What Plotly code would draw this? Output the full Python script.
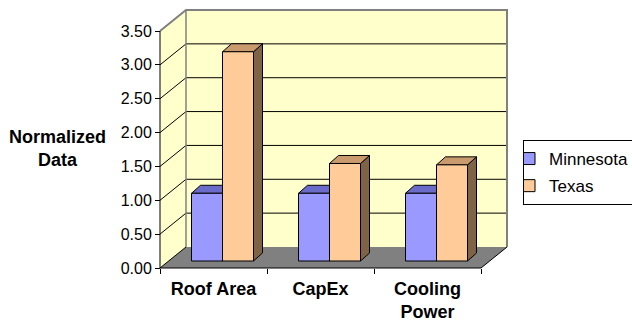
import plotly.graph_objects as go

# ---- data ----
categories = ["Roof Area", "CapEx", "Cooling<br>Power"]
series_names = ["Minnesota", "Texas"]
minnesota = [1.00, 1.00, 1.00]
texas = [3.09, 1.44, 1.42]
y_ticks = [0.0, 0.5, 1.0, 1.5, 2.0, 2.5, 3.0, 3.5]

# ---- styling / geometry (pixels) ----
W_FIG, H_FIG = 632, 321
X0PX, Y0PX = 160, 268          # front origin in pixels
PXX = 107.0                    # px per category
PXY = (268 - 31) / 3.5         # px per value unit
PAD = 4
YMAX = 3.5
DX = 26 / PXX                  # back-wall depth offset
DY = 21 / PXY
SHX = 9 / PXX                  # bar front face depth offset
BASE = 7 / PXY
BDX = 9 / PXX                  # bar depth
BDY = 8 / PXY
BW = 31 / PXX                  # bar width

front_col = {"Minnesota": "#9999FF", "Texas": "#FFCC99"}
top_col = {"Minnesota": "#6B6BC9", "Texas": "#C99A6E"}
side_col = {"Minnesota": "#4D4D99", "Texas": "#7F6346"}
offsets = {"Minnesota": -BW, "Texas": 0.0}
WALL = "#FFFFCC"
GRAY = "#808080"
FONT = "Arial, Liberation Sans, sans-serif"

n = len(categories)
xlo = -0.5 - PAD / PXX
xhi = n - 0.5 + DX + PAD / PXX
ylo = -PAD / PXY
yhi = YMAX + DY + PAD / PXY

plot_w = (xhi - xlo) * PXX
plot_h = (yhi - ylo) * PXY
m_l = X0PX - PAD
m_b = H_FIG - (Y0PX + PAD)
m_t = Y0PX + PAD - plot_h
m_r = W_FIG - m_l - plot_w

fig = go.Figure()
values = {"Minnesota": minnesota, "Texas": texas}
for name in series_names:
    fig.add_trace(go.Bar(
        name=name,
        x=[i + SHX for i in range(n)],
        y=values[name],
        base=BASE,
        offset=offsets[name],
        width=BW,
        marker=dict(color=front_col[name], line=dict(color="black", width=1)),
        legendgroup=name,
    ))

shapes = []
def poly(pts, fill=None, line_color=None, lw=1):
    path = "M " + " L ".join(f"{x},{y}" for x, y in pts) + (" Z" if fill else "")
    d = dict(type="path", path=path, xref="x", yref="y", layer="below",
             line=dict(color=line_color or "rgba(0,0,0,0)", width=lw if line_color else 0))
    if fill:
        d["fillcolor"] = fill
    shapes.append(d)

L, R = -0.5, n - 0.5
# walls and floor
poly([(L, 0), (L + DX, DY), (L + DX, YMAX + DY), (L, YMAX)], fill=WALL)
poly([(L + DX, DY), (R + DX, DY), (R + DX, YMAX + DY), (L + DX, YMAX + DY)], fill=WALL)
poly([(L, 0), (R, 0), (R + DX, DY), (L + DX, DY)], fill=GRAY)
# gridlines
for v in y_ticks[:-1]:
    poly([(L, v), (L + DX, v + DY)], line_color="black")
    if v > 0:
        poly([(L + DX, v + DY), (R + DX, v + DY)], line_color="black")
# wall borders
poly([(L, YMAX), (L + DX, YMAX + DY), (R + DX, YMAX + DY), (R + DX, DY)], line_color=GRAY, lw=2)
poly([(L + DX, DY), (L + DX, YMAX + DY)], line_color=GRAY, lw=1.5)
# floor right edge and front axes
poly([(R, 0), (R + DX, DY)], line_color="black")
poly([(L, 0), (R, 0)], line_color="black")
poly([(L, 0), (L, YMAX)], line_color="black")

# bar tops and sides
for name in series_names:
    for i, v in enumerate(values[name]):
        xl = i + SHX + offsets[name]
        xr = xl + BW
        top = BASE + v
        poly([(xr, BASE), (xr, top), (xr + BDX, top + BDY), (xr + BDX, BASE + BDY)],
             fill=side_col[name], line_color="black")
        poly([(xl, top), (xl + BDX, top + BDY), (xr + BDX, top + BDY), (xr, top)],
             fill=top_col[name], line_color="black")

fig.update_layout(
    width=W_FIG, height=H_FIG,
    margin=dict(l=m_l, r=m_r, t=m_t, b=m_b, pad=0, autoexpand=False),
    paper_bgcolor="white", plot_bgcolor="rgba(0,0,0,0)",
    barmode="overlay",
    shapes=shapes,
    font=dict(family=FONT, color="black"),
    xaxis=dict(range=[xlo, xhi], showgrid=False, zeroline=False, showline=False,
               tickmode="array", tickvals=list(range(n)),
               ticktext=[f"<b>{c}</b>" for c in categories],
               ticks="", tickfont=dict(size=18), ticklabelstandoff=8,
               minor=dict(tickmode="array", tickvals=[k - 0.5 for k in range(n + 1)],
                          ticks="outside", ticklen=5, tickcolor="black", tickwidth=1),
               anchor="free", position=PAD / plot_h, fixedrange=True),
    yaxis=dict(range=[ylo, yhi], showgrid=False, zeroline=False, showline=False,
               tickmode="array", tickvals=y_ticks, tickformat=".2f",
               ticks="outside", ticklen=5, tickcolor="black", tickwidth=1,
               tickfont=dict(size=16),
               anchor="free", position=PAD / plot_w, fixedrange=True),
    legend=dict(x=(523 - m_l) / plot_w, y=(Y0PX + PAD - 140) / plot_h,
                xanchor="left", yanchor="top",
                bordercolor="black", borderwidth=1, bgcolor="white",
                font=dict(size=17), indentation=-15, tracegroupgap=2),
    annotations=[dict(text="<b>Normalized<br>Data</b>", xref="paper", yref="paper",
                      x=(58 - m_l) / plot_w, y=(Y0PX + PAD - 148) / plot_h,
                      xanchor="center", yanchor="middle", showarrow=False,
                      font=dict(size=18))],
    showlegend=True,
)

fig.write_html("out.html")
